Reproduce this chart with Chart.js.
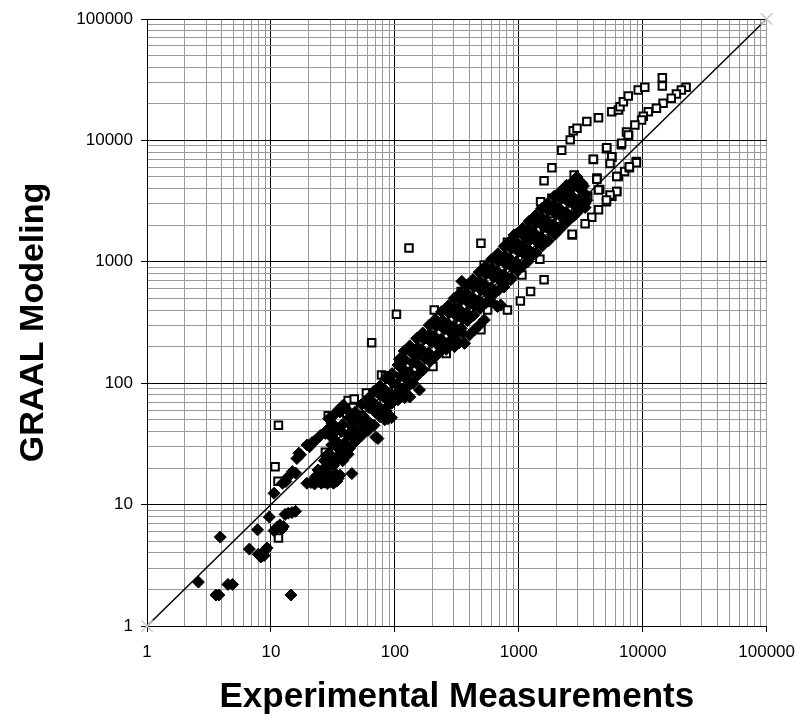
<!DOCTYPE html>
<html>
<head>
<meta charset="utf-8">
<title>GRAAL Modeling vs Experimental Measurements</title>
<script src="https://cdn.jsdelivr.net/npm/chart.js@4.4.1/dist/chart.umd.min.js"></script>
<style>
  html, body { margin: 0; padding: 0; background: #fff; }
  #wrap { width: 805px; height: 720px; }
</style>
</head>
<body>
<div id="wrap"><canvas id="chart" width="805" height="720"></canvas></div>
<script>
// tick labels (decades) shared by both axes
const tickValues = [1, 10, 100, 1000, 10000, 100000];
const tickLabels = ["1", "10", "100", "1000", "10000", "100000"];

// filled diamonds: [experimental, modeled]
const diamondPoints = [
  // low end
  [2.6, 2.3], [3.6, 1.8], [3.8, 1.8], [3.9, 5.4], [4.5, 2.2], [4.9, 2.2], [6.7, 4.3], [7.8, 6.2],
  [7.9, 3.9], [8.3, 3.7], [8.6, 4.0], [9.0, 4.2], [9.3, 4.4], [8.8, 3.8], [9.7, 7.9], [10.6, 6.1],
  [11.2, 6.5], [11.8, 6.8], [12.3, 6.3], [12.6, 6.6], [14.5, 1.8], [13.0, 8.3], [13.8, 8.5], [14.8, 8.6],
  [15.8, 8.8], [10.6, 12.4], [12.4, 15], [13.2, 15.5], [14.9, 18.7], [13.8, 17], [15.8, 18.2], [16.8, 26.5],
  [16.2, 24], [17.3, 25.7],
  // lower cluster 20-45
  [19.5, 15], [21, 15.2], [22.5, 14.8], [24, 15.5], [25.5, 15], [27, 15.3], [28.5, 14.9], [30, 15.4],
  [32, 15], [34, 15.6], [35, 16.5], [23, 17], [26, 18], [29, 17.5], [33, 18], [36, 17.5], [45, 18],
  [24, 19.3], [27, 20], [29.3, 21.9], [32, 21], [35, 24.8], [38, 23], [40, 30], [37, 27], [42, 26],
  [31, 25], [27, 23],
  // upper branch 20-40
  [19.6, 31], [21.5, 32.5], [20.5, 30], [23, 34], [25, 37], [27.6, 38.6], [28.3, 41], [29.3, 51],
  [31, 47], [33, 56], [35, 60], [36, 58], [37.4, 64], [38.5, 66], [40, 62],
  // band 30-100
  [30, 21], [29, 26], [31, 31], [30, 37], [34, 23], [35, 29], [33, 34], [34, 41],
  [38, 28], [39, 32], [37, 40], [38, 46], [43, 29], [42, 37], [44, 45], [43, 52],
  [48, 35], [49, 40], [47, 50], [48, 58], [54, 37], [53, 47], [55, 54], [54, 67],
  [61, 41], [60, 49], [62, 63], [61, 75], [68, 45], [69, 58], [67, 69], [68, 86],
  [76, 53], [75, 63], [77, 79], [76, 95], [85, 59], [86, 73], [84, 87], [85, 110],
  [95, 69], [94, 81], [96, 101], [95, 120],
  // lower lobe 45-160
  [73, 35], [70, 36], [48, 33], [52, 38], [58, 42], [64, 46], [83, 50], [88, 51], [94, 52],
  [106, 73], [120, 76], [132, 77], [158, 88], [112, 85], [125, 92], [140, 100], [100, 80], [80, 60], [90, 66],
  // band 100-300
  [107, 79], [104, 97], [110, 114], [106, 141], [109, 158],
  [120, 91], [124, 107], [117, 131], [121, 156], [119, 184],
  [135, 101], [131, 123], [139, 147], [136, 180], [132, 203],
  [152, 116], [157, 139], [148, 169], [153, 198], [150, 234],
  [170, 129], [175, 160], [166, 188], [171, 230], [168, 259],
  [192, 151], [187, 178], [197, 217], [193, 255], [189, 300],
  [215, 168], [221, 207], [210, 243], [216, 295], [212, 335],
  [242, 197], [236, 230], [248, 280], [243, 327], [238, 388],
  [272, 218], [279, 265], [266, 312], [273, 378], [269, 432],
  [303, 200], [330, 215], [365, 213], [400, 250], [438, 274], [480, 300], [527, 332], [260, 190],
  [230, 180], [280, 220], [350, 260], [347, 690],
  // band 300-3500
  [305, 252], [298, 295], [313, 358], [306, 421], [300, 498],
  [343, 283], [351, 341], [336, 399], [344, 484], [339, 555],
  [385, 327], [377, 379], [394, 458], [386, 540], [380, 640],
  [432, 362], [442, 434], [423, 511], [433, 620], [427, 714],
  [485, 413], [474, 481], [497, 584], [486, 690], [479, 822],
  [545, 462], [558, 553], [533, 650], [546, 792], [539, 912],
  [612, 529], [598, 613], [627, 746], [613, 878], [604, 1050],
  [687, 586], [703, 705], [672, 829], [688, 1008], [679, 1165],
  [772, 670], [755, 783], [790, 952], [773, 1120], [763, 1340],
  [867, 740], [888, 898], [848, 1058], [868, 1285], [857, 1490],
  [973, 846], [951, 996], [996, 1210], [974, 1430], [962, 1700],
  [1093, 940], [1119, 1140], [1069, 1345], [1094, 1635], [1080, 1890],
  [1227, 1068], [1200, 1262], [1256, 1538], [1228, 1815], [1212, 2160],
  [1378, 1182], [1411, 1448], [1348, 1708], [1379, 2075], [1362, 2405],
  [1548, 1350], [1514, 1600], [1585, 1950], [1549, 2300], [1530, 2745],
  [1738, 1490], [1780, 1830], [1700, 2165], [1739, 2630], [1717, 3040],
  [1952, 1700], [1909, 2025], [1998, 2465], [1953, 2910], [1928, 3460],
  [2192, 1890], [2245, 2305], [2144, 2735], [2193, 3310], [2166, 3800],
  [2462, 2140], [2408, 2555], [2520, 3105], [2463, 3670], [2432, 4270],
  [2765, 2380], [2830, 2905], [2705, 3455], [2766, 4150], [2731, 4580],
  [3105, 2690], [3037, 3225], [3178, 3895], [3104, 4430],
  [3400, 3010], [3480, 3580], [3326, 4210],
  [673, 428], [715, 440], [860, 710], [1000, 860], [1180, 1000], [600, 470], [760, 620],
  [917, 1663], [1170, 1550], [1970, 1690], [2540, 2200], [2900, 2500], [3430, 2800],
  [2950, 5000], [3230, 4430], [3540, 3200]
];

// open squares: [experimental, modeled]
const squarePoints = [
  [11.5, 5.3], [11.5, 45], [10.8, 20.5], [11.4, 15.6], [27.5, 27], [29, 54], [42, 72], [47, 74],
  [46, 63], [43, 55], [41, 56], [59, 83], [78, 117], [84, 115], [65, 215], [103, 370], [130, 1300],
  [88, 113], [208, 400], [294, 408], [318, 484], [343, 570], [303, 470], [495, 1420], [810, 1450],
  [1030, 1360], [525, 940], [1030, 830], [1600, 710], [1245, 570], [1030, 475], [810, 400], [560, 400],
  [495, 275], [260, 176], [203, 137], [1480, 1050], [2700, 1660], [1500, 1800], [1640, 1650],
  [1400, 1830], [1800, 2500], [1850, 3340], [1500, 3130], [1060, 780],
  [2750, 12000], [2600, 10100], [2220, 8300], [1850, 5960], [1600, 4650], [2800, 5200], [2540, 4260],
  [4000, 6950], [5100, 8530], [5640, 7250], [6720, 9200], [7700, 10900], [7400, 11700], [4270, 4900],
  [4500, 3950], [5100, 3130], [5640, 3470], [6170, 3800], [6350, 5050], [7150, 5550], [7810, 5960],
  [8880, 6690], [3600, 3470], [4400, 2680], [3880, 2330], [3430, 2060], [2700, 1690],
  [2950, 12600], [3540, 14300], [4400, 15400], [5620, 17200], [6360, 17800], [6560, 18900], [6980, 20800],
  [7650, 23200], [9200, 26000], [10400, 27400], [14400, 32800], [14400, 28000],
  [22400, 27400], [20500, 26000], [18700, 24100], [17000, 22200], [14600, 20200], [12900, 18400],
  [11100, 17200], [10100, 15800], [9800, 14700], [8650, 13400], [7650, 11100], [6760, 9460], [5130, 8700],
  [5620, 7350], [4000, 6990], [5450, 6460],
  [8900, 6560], [7800, 6080], [6170, 5040], [6170, 3790], [5450, 3550], [5100, 3230], [4270, 4790], [4400, 3900]
];

// 1:1 reference line
const identityLine = [[1, 1], [100000, 100000]];

// grid lines at 1..9 of each decade
const gridValues = [];
for (let i = 0; i < tickValues.length - 1; i++) {
  for (let m = 1; m < 10; m++) gridValues.push(m * tickValues[i]);
}
gridValues.push(tickValues[tickValues.length - 1]);

const toXY = (arr) => arr.map((p) => ({ x: p[0], y: p[1] }));
const isDecade = (v) => tickValues.indexOf(v) >= 0;
const labelFor = (v) => {
  const i = tickValues.indexOf(v);
  return i >= 0 ? tickLabels[i] : "";
};

Chart.defaults.font.family = "'Liberation Sans', Arial, sans-serif";
Chart.defaults.color = "#000";

function logAxis(title, isX) {
  return {
    type: "logarithmic",
    position: isX ? "bottom" : "left",
    min: 1,
    max: 100000,
    afterBuildTicks: (s) => {
      s.ticks = gridValues.map((v) => ({ value: v }));
    },
    afterFit: (s) => {
      if (isX) s.height = 94;
      else s.width = 147;
    },
    ticks: {
      autoSkip: false,
      maxRotation: 0,
      padding: isX ? 10 : 8,
      color: "#000",
      font: { size: 17 },
      callback: (v) => labelFor(v),
    },
    grid: {
      lineWidth: 1,
      tickLength: 6,
      color: (ctx) => {
        const v = ctx.tick ? ctx.tick.value : 0;
        if (isX && v === 100000) return "#999";
        return isDecade(v) ? "#000" : "#999";
      },
      tickColor: (ctx) => (ctx.tick && isDecade(ctx.tick.value) ? "#000" : "rgba(0,0,0,0)"),
    },
    border: { color: "#000", width: 1 },
    title: {
      display: true,
      text: title,
      color: "#000",
      font: { size: isX ? 35 : 34, weight: "bold" },
      padding: isX ? { top: 0, bottom: 2 } : { top: 13, bottom: 0 },
    },
  };
}

new Chart(document.getElementById("chart"), {
  type: "scatter",
  data: {
    datasets: [
      {
        label: "1:1",
        data: toXY(identityLine),
        showLine: true,
        borderColor: "#000",
        borderWidth: 1.5,
        pointStyle: "crossRot",
        pointRadius: 8,
        pointBorderColor: "#c8c8c8",
        pointBorderWidth: 1.5,
        clip: false,
        order: 0,
      },
      {
        label: "diamonds",
        data: toXY(diamondPoints),
        pointStyle: "rectRot",
        pointRadius: 6,
        backgroundColor: "#000",
        borderColor: "#000",
        borderWidth: 1,
        order: 1,
      },
      {
        label: "squares",
        data: toXY(squarePoints),
        pointStyle: "rect",
        pointRadius: 5.3,
        backgroundColor: "#fff",
        borderColor: "#000",
        borderWidth: 2,
        order: 2,
      },
    ],
  },
  options: {
    responsive: false,
    animation: false,
    events: [],
    layout: { padding: { top: 19, right: 34, bottom: 0, left: 0 } },
    plugins: { legend: { display: false }, tooltip: { enabled: false } },
    scales: {
      x: logAxis("Experimental Measurements", true),
      y: logAxis("GRAAL Modeling", false),
    },
  },
});
</script>
</body>
</html>
